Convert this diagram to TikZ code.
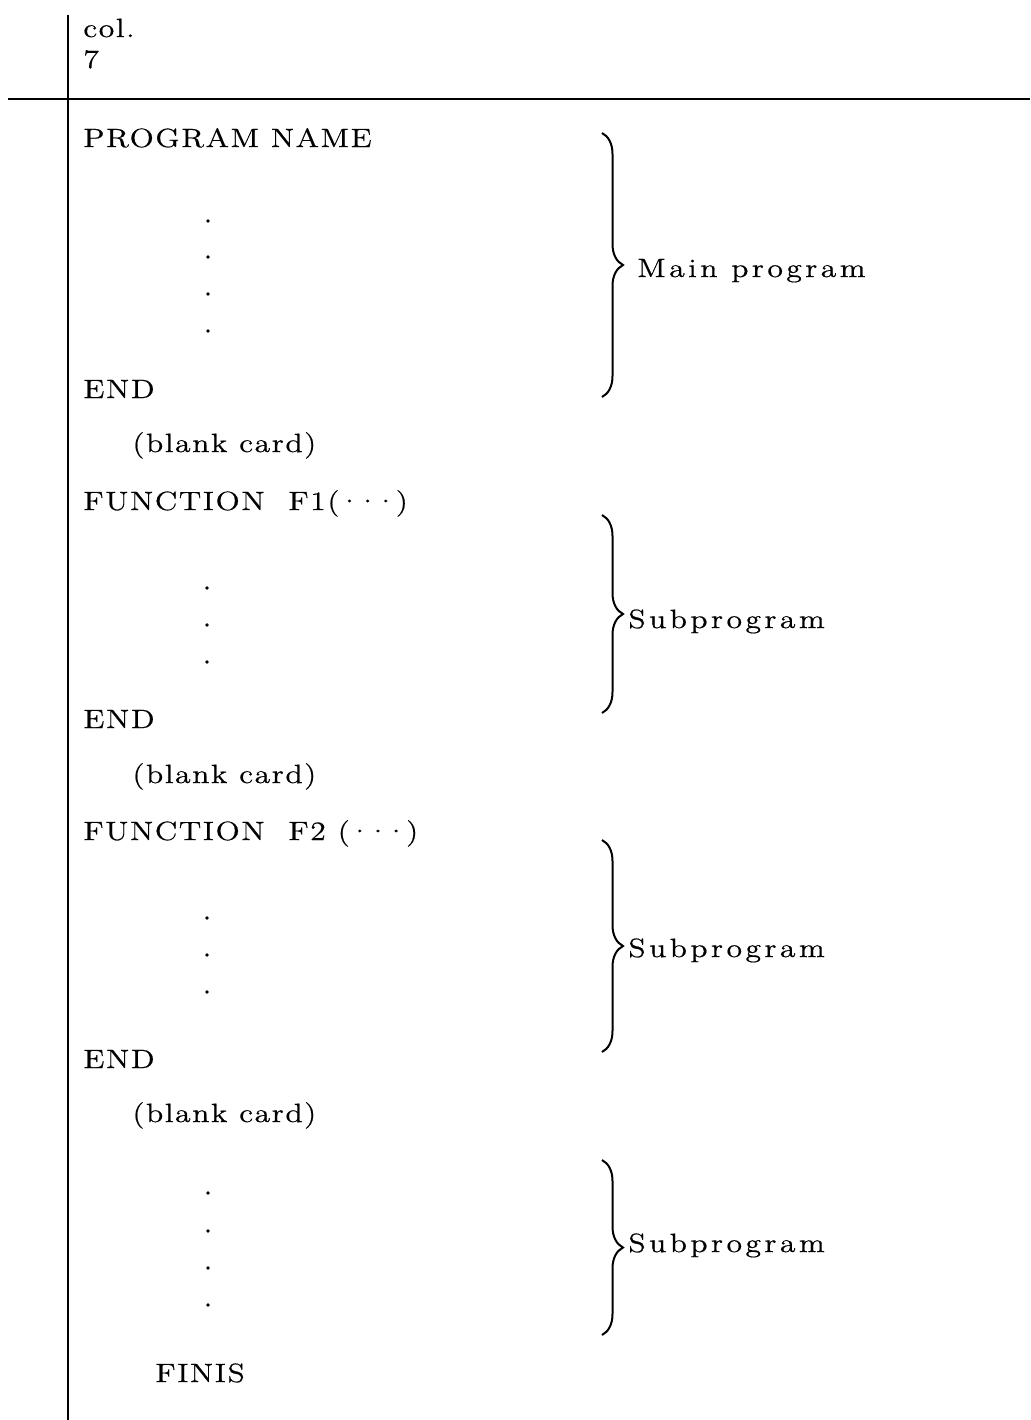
\documentclass[tikz,border=0pt]{standalone}
\usepackage{fontspec}
\setmainfont{Latin Modern Roman}
\newfontfamily\cardfont{Latin Modern Roman}[LetterSpace=6,FakeStretch=1.2,FakeBold=0.6]
\newfontfamily\notefont{Latin Modern Roman}[LetterSpace=13,FakeStretch=1.2,FakeBold=0.6]
\usetikzlibrary{decorations.pathreplacing}

\begin{document}
\begin{tikzpicture}[
  x=0.5pt, y=-0.5pt,
  card/.style={anchor=base west,inner sep=0pt,
    font=\cardfont\fontsize{13.2}{16}\selectfont},
  note/.style={card,font=\notefont\fontsize{13.2}{16}\selectfont},
  rule/.style={line width=1pt},
  curly/.style={decorate,decoration={brace,amplitude=10.5pt},line width=1pt},
  pip/.style={circle,fill,inner sep=0pt,minimum size=1.8pt}
]
  \useasboundingbox (0,0) rectangle (1030,1420);
  % column rules
  \draw[rule] (68,15) -- (68,1420);
  \draw[rule] (8,99) -- (1030,99);
  % heading
  \node[card] (col) at (83,37) {col.};
  \node[card] (seven) at (83,68) {7};
  % main program
  \node[card] (prog) at (83,147) {PROGRAM NAME};
  \foreach \y [count=\i] in {221,257,294,331}
    \node[pip] (m\i) at (208,\y) {};
  \node[card] (end1) at (83,398) {END};
  \node[card] (blank1) at (132,452) {(blank card)};
  % first function
  \node[card] (fun1) at (83,510) {FUNCTION\ \ F1(\kern-1pt·\kern-3pt·\kern-3pt·\kern-1pt)};
  \foreach \y [count=\i] in {588,625,662}
    \node[pip] (a\i) at (207,\y) {};
  \node[card] (end2) at (83,728) {END};
  \node[card] (blank2) at (132,783) {(blank card)};
  % second function
  \node[card] (fun2) at (83,840) {FUNCTION\ \ F2 (\kern-1pt·\kern-3pt·\kern-3pt·\kern-1pt)};
  \foreach \y [count=\i] in {918,955,992}
    \node[pip] (b\i) at (207,\y) {};
  \node[card] (end3) at (83,1068) {END};
  \node[card] (blank3) at (132,1122) {(blank card)};
  % last subprogram
  \foreach \y [count=\i] in {1193,1231,1268,1305}
    \node[pip] (c\i) at (208,\y) {};
  \node[card] (finis) at (155,1382) {FINIS};
  % braces
  \draw[curly] (602,133) -- (602,397);
  \node[note] (lmain) at (637,277) {Main program};
  \draw[curly] (602,515) -- (602,713);
  \node[note] (lsub1) at (628,628) {Subprogram};
  \draw[curly] (602,840) -- (602,1052);
  \node[note] (lsub2) at (628,957) {Subprogram};
  \draw[curly] (602,1160) -- (602,1335);
  \node[note] (lsub3) at (628,1252) {Subprogram};
\end{tikzpicture}
\end{document}
